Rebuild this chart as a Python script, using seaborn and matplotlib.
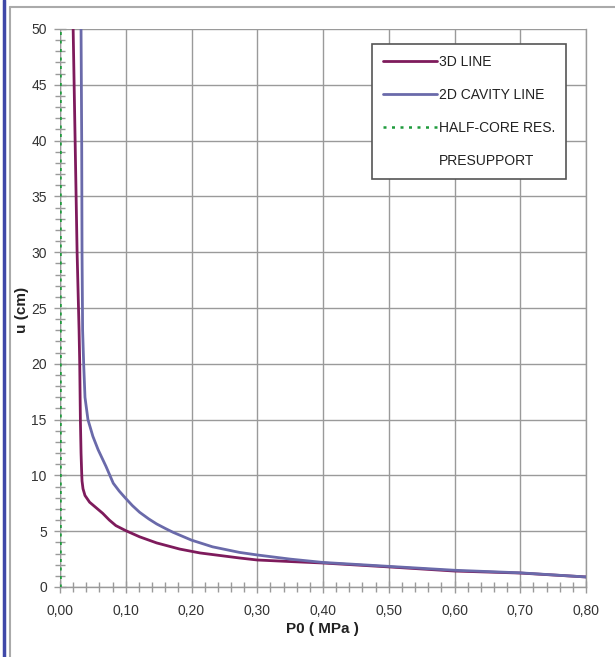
import matplotlib
matplotlib.use("Agg")
import matplotlib.pyplot as plt
import seaborn as sns
import pandas as pd
from matplotlib.lines import Line2D
from matplotlib.ticker import MultipleLocator, FixedLocator, FixedFormatter

# Datos
p_3d = [0.020, 0.023, 0.026, 0.029, 0.030, 0.031, 0.032, 0.033, 0.0335, 0.035,
        0.038, 0.045, 0.055, 0.065, 0.075, 0.085, 0.100, 0.121, 0.147, 0.182,
        0.213, 0.273, 0.300, 0.350, 0.400, 0.500, 0.600, 0.700, 0.800]
u_3d = [50, 40, 30, 23, 20, 15, 12, 10.2, 9.5, 8.8,
        8.2, 7.6, 7.1, 6.6, 6.0, 5.5, 5.05, 4.5, 3.95, 3.4,
        3.05, 2.6, 2.42, 2.28, 2.15, 1.8, 1.43, 1.25, 0.9]

p_2d = [0.032, 0.033, 0.0335, 0.0344, 0.036, 0.038, 0.0425, 0.050, 0.058, 0.070,
        0.081, 0.090, 0.099, 0.110, 0.121, 0.135, 0.147, 0.160, 0.172, 0.200,
        0.232, 0.273, 0.300, 0.350, 0.400, 0.500, 0.600, 0.700, 0.800]
u_2d = [50, 40, 30, 23, 20, 17, 15, 13.5, 12.3, 10.8,
        9.3, 8.6, 8.0, 7.3, 6.7, 6.1, 5.65, 5.25, 4.9, 4.2,
        3.6, 3.1, 2.87, 2.5, 2.2, 1.85, 1.5, 1.27, 0.9]

p_half = [0.0, 0.0]
u_half = [0, 50]

x_ticks = [0.0, 0.1, 0.2, 0.3, 0.4, 0.5, 0.6, 0.7, 0.8]
x_labels = ["0,00", "0,10", "0,20", "0,30", "0,40", "0,50", "0,60", "0,70", "0,80"]
y_ticks = [0, 5, 10, 15, 20, 25, 30, 35, 40, 45, 50]

series = ["3D LINE", "2D CAVITY LINE", "HALF-CORE RES.", "PRESUPPORT"]
colors = ["#7E1B5C", "#6A6AAA", "#1E9B3C"]

sns.set_theme(style="white")
plt.rcParams["font.family"] = ["Liberation Sans", "DejaVu Sans"]

W, H = 615, 657
fig = plt.figure(figsize=(W / 100, H / 100), dpi=100)
ax = fig.add_axes([60 / W, (H - 587) / H, (586 - 60) / W, (587 - 29) / H])

grey = "#9a9a9a"
ax.grid(True, which="major", color=grey, lw=1.0)
ax.set_axisbelow(True)

df3 = pd.DataFrame({"p": p_3d, "u": u_3d})
df2 = pd.DataFrame({"p": p_2d, "u": u_2d})
dfh = pd.DataFrame({"p": p_half, "u": u_half})

sns.lineplot(data=dfh, x="p", y="u", ax=ax, color=colors[2], lw=1.8,
             linestyle=(0, (1.2, 2.2)), sort=False, estimator=None, zorder=4)
sns.lineplot(data=df3, x="p", y="u", ax=ax, color=colors[0], lw=2.0,
             sort=False, estimator=None, zorder=5)
sns.lineplot(data=df2, x="p", y="u", ax=ax, color=colors[1], lw=2.0,
             sort=False, estimator=None, zorder=5)

ax.set_xlim(0, 0.8)
ax.set_ylim(0, 50)
ax.xaxis.set_major_locator(FixedLocator(x_ticks))
ax.xaxis.set_major_formatter(FixedFormatter(x_labels))
ax.yaxis.set_major_locator(FixedLocator(y_ticks))
ax.xaxis.set_minor_locator(MultipleLocator(0.02))
ax.yaxis.set_minor_locator(MultipleLocator(1))

ax.tick_params(axis="both", which="major", direction="inout", length=9, width=1,
               color=grey, labelsize=10, labelcolor="#333333", bottom=True, left=True)
ax.tick_params(axis="x", which="major", pad=8)
ax.tick_params(axis="y", which="major", pad=5)
ax.tick_params(axis="both", which="minor", direction="inout", length=7, width=1,
               color=grey, bottom=True, left=True)

for side in ["top", "left"]:
    ax.spines[side].set_visible(False)
for side in ["bottom", "right"]:
    ax.spines[side].set_color(grey)
    ax.spines[side].set_linewidth(1.0)
ax.axvline(0, color=grey, lw=1.0, zorder=1)

ax.set_xlabel("P0 ( MPa )", fontsize=11, fontweight="bold", color="#222222")
ax.set_ylabel("u (cm)", fontsize=11, fontweight="bold", color="#222222")
ax.xaxis.set_label_coords(0.498, -0.062)
ax.yaxis.set_label_coords(-0.058, 0.496)

handles = [
    Line2D([], [], color=colors[0], lw=2.0),
    Line2D([], [], color=colors[1], lw=2.0),
    Line2D([], [], color=colors[2], lw=1.8, linestyle=(0, (1.2, 2.2))),
    Line2D([], [], color="none", lw=0),
]
leg = ax.legend(handles, series, loc="upper left",
                bbox_to_anchor=(372 / W, (H - 44) / H), bbox_transform=fig.transFigure,
                fancybox=False, framealpha=1, edgecolor="#555555", fontsize=10,
                handlelength=3.9, handletextpad=0.1, labelspacing=1.37,
                borderpad=0.8, borderaxespad=0)
leg.get_frame().set_linewidth(1.2)
for t in leg.get_texts():
    t.set_color("#222222")

# marco exterior
fig.add_artist(Line2D([10 / W, 1], [(H - 7) / H] * 2, color="#aaaaaa", lw=1.5))
fig.add_artist(Line2D([10 / W] * 2, [0, (H - 7) / H], color="#aaaaaa", lw=1.5))
fig.add_artist(Line2D([4 / W] * 2, [0, 1], color="#3F48A8", lw=2.5))

fig.savefig("out.png", dpi=100)
